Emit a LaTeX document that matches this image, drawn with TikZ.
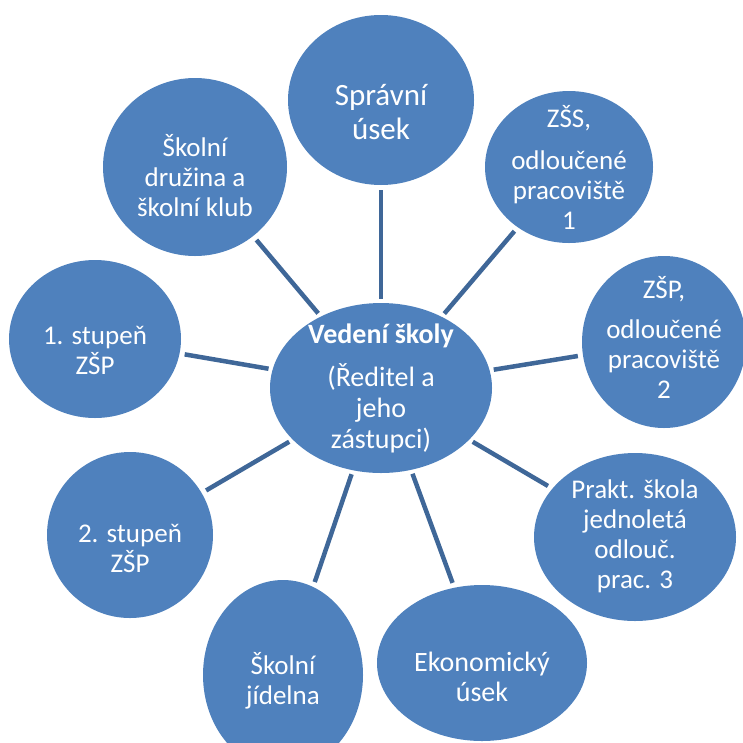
\documentclass[tikz,border=0pt]{standalone}
\usepackage{fontspec}
\setmainfont{Carlito}
\usetikzlibrary{shapes.geometric}
\definecolor{bubblecolor}{RGB}{79,129,189}
\definecolor{linkcolor}{RGB}{63,103,152}

\begin{document}
\begin{tikzpicture}[x=1pt,y=-1pt,
  bubble/.style={ellipse,fill=bubblecolor,inner sep=0pt},
  caption/.style={text=white,align=center,font=\fontsize{27}{30}\selectfont},
  link/.style={draw=linkcolor,line width=4.5pt,shorten <=4pt,shorten >=5pt}]
\useasboundingbox (0,0) rectangle (743,742);
% middle
\node[bubble,minimum width=222pt,minimum height=170pt] (hub) at (381,388) {};
% around it
\node[bubble,minimum width=186pt,minimum height=170pt] (spravni) at (381,100) {};
\node[bubble,minimum width=168pt,minimum height=152pt] (zss) at (569,167) {};
\node[bubble,minimum width=164pt,minimum height=172pt] (zsp) at (664,342) {};
\node[bubble,minimum width=202pt,minimum height=168pt] (prakt) at (635,537) {};
\node[bubble,minimum width=210pt,minimum height=156pt] (ekonom) at (482,663) {};
\node[bubble,minimum width=160pt,minimum height=190pt] (jidelna) at (283,675) {};
\node[bubble,minimum width=166pt,minimum height=166pt] (stupen2) at (130,535) {};
\node[bubble,minimum width=172pt,minimum height=158pt] (stupen1) at (95,339) {};
\node[bubble,minimum width=184pt,minimum height=178pt] (druzina) at (195,167) {};
% spokes
\foreach \n in {spravni,zss,zsp,prakt,ekonom,jidelna,stupen2,stupen1,druzina}
  \draw[link] (hub) -- (\n);
% texts
\node[caption,font=\fontsize{28}{31}\selectfont] (hub-t) at (hub) {\textbf{Vedení školy}\\[12pt](Ředitel a\\jeho\\zástupci)};
\node[caption,font=\fontsize{31}{34}\selectfont] (spravni-t) at ([yshift=-12pt]spravni) {Správní\\úsek};
\node[caption] (zss-t) at (zss) {ZŠS,\\[12pt]odloučené\\pracoviště\\1};
\node[caption] (zsp-t) at ([yshift=5pt]zsp) {ZŠP,\\[10pt]odloučené\\pracoviště\\2};
\node[caption] (prakt-t) at ([yshift=1pt]prakt) {Prakt. škola\\jednoletá\\odlouč.\\prac. 3};
\node[caption,font=\fontsize{28}{30}\selectfont] (ekonom-t) at ([yshift=-14pt]ekonom) {Ekonomický\\úsek};
\node[caption] (jidelna-t) at ([yshift=-6pt]jidelna) {Školní\\jídelna};
\node[caption] (stupen2-t) at ([yshift=-13pt]stupen2) {2. stupeň\\ZŠP};
\node[caption] (stupen1-t) at ([yshift=-11pt]stupen1) {1. stupeň\\ZŠP};
\node[caption] (druzina-t) at ([yshift=-9pt]druzina) {Školní\\družina a\\školní klub};
\end{tikzpicture}
\end{document}
